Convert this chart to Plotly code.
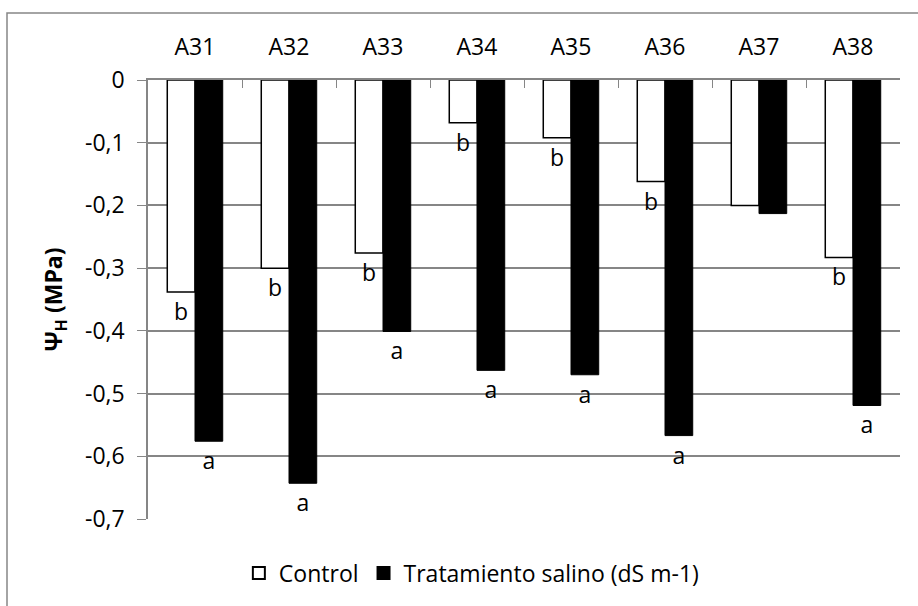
import plotly.graph_objects as go

categories = ["A31", "A32", "A33", "A34", "A35", "A36", "A37", "A38"]
control = [-0.338, -0.300, -0.276, -0.068, -0.092, -0.162, -0.200, -0.283]
salino = [-0.576, -0.643, -0.401, -0.463, -0.470, -0.567, -0.213, -0.519]
control_letters = ["b", "b", "b", "b", "b", "b", "", "b"]
salino_letters = ["a", "a", "a", "a", "a", "a", "", "a"]
y_ticks = [0, -0.1, -0.2, -0.3, -0.4, -0.5, -0.6, -0.7]
y_ticktext = ["0", "-0,1", "-0,2", "-0,3", "-0,4", "-0,5", "-0,6", "-0,7"]

FONT = "Open Sans"
FS = 23

fig = go.Figure()
fig.add_trace(go.Bar(
    x=categories, y=control, name="Control",
    marker=dict(color="white", line=dict(color="black", width=1.5)),
    text=control_letters, textposition="outside", textangle=0,
    textfont=dict(family=FONT, size=FS, color="black"),
    cliponaxis=False,
))
fig.add_trace(go.Bar(
    x=categories, y=salino, name="Tratamiento salino (dS m-1)",
    marker=dict(color="black", line=dict(color="black", width=1)),
    text=salino_letters, textposition="outside", textangle=0,
    textfont=dict(family=FONT, size=FS, color="black"),
    cliponaxis=False,
))

fig.update_layout(
    width=918, height=606,
    margin=dict(l=148, r=18, t=80, b=87, autoexpand=False),
    paper_bgcolor="white", plot_bgcolor="white",
    barmode="group", bargap=0.41, bargroupgap=0,
    font=dict(family=FONT, size=FS, color="black"),
    showlegend=True,
    legend=dict(orientation="h", x=0.43, xanchor="center", y=-0.123, yanchor="middle",
                font=dict(family=FONT, size=FS, color="black"),
                itemsizing="constant", traceorder="normal"),
    xaxis=dict(side="top", showline=True, linecolor="#868686", linewidth=1.5,
               ticks="inside", tickson="boundaries", ticklen=8, tickcolor="#868686",
               ticklabelstandoff=14,
               tickfont=dict(family=FONT, size=FS, color="black"),
               showgrid=False, zeroline=False, fixedrange=True),
    yaxis=dict(range=[-0.7, 0], tickvals=y_ticks, ticktext=y_ticktext,
               showline=True, linecolor="#868686", linewidth=1.5,
               ticks="outside", ticklen=9, tickcolor="#868686",
               ticklabelstandoff=8,
               showgrid=True, gridcolor="#868686", gridwidth=1.5,
               zeroline=False,
               tickfont=dict(family=FONT, size=FS, color="black"),
               title=dict(text="<b>Ψ<sub>H</sub> (MPa)</b>", standoff=16,
                          font=dict(family=FONT, size=FS, color="black"))),
)

fig.add_shape(type="rect", xref="paper", yref="paper",
              x0=(7 - 148) / 752, x1=1.1, y0=-0.2, y1=1 + (80 - 13) / 439,
              line=dict(color="#868686", width=1.5), fillcolor="rgba(0,0,0,0)",
              layer="below")

fig.write_html("out.html", config={"displayModeBar": False},
               post_script="document.body.style.margin='0';")
